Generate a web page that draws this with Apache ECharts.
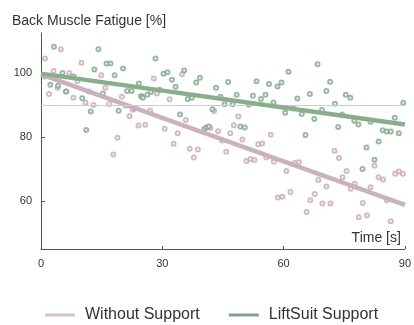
<!DOCTYPE html>
<html>
<head>
<meta charset="utf-8">
<script src="https://cdn.jsdelivr.net/npm/echarts@6/dist/echarts.min.js"></script>
<style>
html,body{margin:0;padding:0;background:#fff;}
#chart{width:414px;height:325px;}
</style>
</head>
<body>
<div id="chart"></div>
<script>
// Data
const seriesNames = ['Without Support', 'LiftSuit Support'];
const xTicks = [0, 30, 60, 90];
const yTicks = [60, 80, 100];
const referenceLevel = 90;

// Without Support: [time s, fatigue %]
const withoutPoints = [
  [1.0,104.5],[2.0,93.4],[3.1,100.6],[4.1,95.4],[4.9,107.4],[6.2,94.2],[7.0,100.0],[8.0,92.3],
  [9.0,97.5],[10.0,103.2],[11.0,90.8],[11.9,94.2],[13.0,90.0],[14.9,99.3],[15.9,95.4],[16.9,90.3],
  [17.9,74.5],[18.9,79.8],[20.0,92.6],[20.9,89.8],[21.9,86.5],[22.7,88.5],[24.1,83.6],[24.7,92.7],
  [25.8,83.8],[27.0,88.2],[27.9,98.3],[28.7,93.6],[30.6,82.6],[31.8,91.8],[32.8,77.9],[33.8,81.2],
  [34.9,99.6],[35.8,85.3],[36.8,76.3],[37.8,73.6],[38.8,76.1],[41.9,82.8],[42.8,88.1],[43.8,81.8],
  [44.8,78.9],[45.8,75.4],[46.8,81.2],[47.7,83.7],[48.8,86.4],[49.8,79.2],[50.8,72.5],[51.8,73.1],
  [52.8,72.8],[53.7,77.7],[54.7,78.0],[55.7,73.6],[56.8,80.7],[57.6,72.3],[58.6,61.1],[59.7,61.3],
  [60.7,69.4],[61.7,62.8],[62.7,71.9],[63.8,72.1],[65.7,56.6],[66.6,60.2],[67.7,62.2],[68.6,66.6],
  [69.6,59.2],[70.6,64.5],[71.6,59.2],[72.6,75.7],[73.7,73.4],[74.6,67.4],[75.6,69.4],[76.6,63.8],
  [77.6,65.4],[78.6,54.9],[79.6,59.4],[80.6,55.5],[81.5,64.3],[82.5,71.0],[83.5,67.4],[84.6,66.7],
  [85.5,60.2],[86.5,53.7],[87.6,68.5],[88.5,69.2],[89.5,68.5]
];

// LiftSuit Support: [time s, fatigue %]
const liftsuitPoints = [
  [1.0,98.9],[2.3,96.3],[3.2,108.2],[4.2,96.0],[5.3,100.0],[6.2,94.2],[8.1,98.9],[10.2,92.1],
  [11.2,82.2],[12.3,88.0],[13.2,101.1],[14.2,107.4],[15.3,93.6],[16.2,103.0],[17.2,103.0],[18.2,99.3],
  [19.2,88.2],[20.3,101.4],[21.3,94.4],[22.4,94.4],[23.2,89.0],[24.2,96.7],[24.9,92.7],[25.2,92.3],
  [26.3,93.2],[27.2,94.1],[28.3,104.5],[29.3,94.8],[30.3,99.8],[31.3,100.2],[32.4,97.9],[33.3,95.7],
  [34.4,87.0],[35.4,100.8],[36.3,91.9],[37.3,92.3],[38.4,97.0],[39.3,98.5],[40.4,82.5],[40.9,83.0],
  [41.5,83.3],[42.4,88.7],[43.3,95.4],[44.4,92.6],[45.4,90.2],[46.3,97.2],[47.4,90.2],[48.4,93.2],
  [49.3,83.3],[50.4,83.0],[51.4,90.1],[52.4,92.9],[53.3,97.4],[54.4,91.9],[55.5,93.2],[56.4,96.6],
  [57.5,90.8],[58.5,95.8],[59.5,97.0],[60.4,87.6],[61.2,100.4],[62.4,88.9],[63.4,92.0],[64.5,87.2],
  [65.4,80.6],[66.5,93.4],[67.6,85.6],[68.4,102.7],[69.5,88.4],[70.6,94.4],[71.5,97.3],[72.7,90.4],
  [73.5,83.1],[74.5,87.0],[75.4,93.2],[76.5,92.3],[77.5,85.1],[78.5,83.9],[79.5,70.0],[80.5,76.7],
  [81.5,84.8],[82.5,72.9],[83.5,78.6],[84.5,82.1],[85.5,81.7],[86.5,81.7],[87.5,86.0],[88.5,81.2],
  [89.6,90.7],[90.3,77.9]
];

// Trend lines (end points)
const withoutTrend = [[0, 99.6], [90, 58.8]];
const liftsuitTrend = [[0, 99.8], [90, 83.9]];

const C = {
  withoutPt: '#c8a9b8', liftPt: '#7eaa88',
  withoutLine: '#c9b1bd', liftLine: '#89ae8c',
  withoutLegend: '#cbb4bf', liftLegend: '#5e8b76',
  axis: '#555', text: '#333', ref: '#cccccc'
};

const chart = echarts.init(document.getElementById('chart'), null, {renderer: 'canvas'});
const FONT = 'Liberation Sans, Arial, sans-serif';

chart.setOption({
  animation: false,
  backgroundColor: '#fff',
  title: {
    text: 'Back Muscle Fatigue [%]',
    left: 7, top: 9,
    textStyle: {fontFamily: FONT, fontSize: 14, fontWeight: 'normal', color: C.text}
  },
  legend: {
    left: 40, top: 302,
    icon: 'rect', itemWidth: 30, itemHeight: 3, itemGap: 29,
    itemStyle: {borderWidth: 0},
    lineStyle: {width: 0},
    textStyle: {fontFamily: FONT, fontSize: 16, color: C.text, padding: [0, 0, 0, 5]},
    data: [
      {name: seriesNames[0], itemStyle: {color: C.withoutLegend, borderWidth: 0}},
      {name: seriesNames[1], itemStyle: {color: C.liftLegend, borderWidth: 0}}
    ]
  },
  grid: {left: 41, right: 3, top: 33, bottom: 76, containLabel: false},
  xAxis: {
    type: 'value', min: xTicks[0], max: xTicks[xTicks.length - 1], interval: 30,
    name: 'Time [s]', nameLocation: 'end', nameGap: -4,
    nameTextStyle: {fontFamily: FONT, fontSize: 14, color: C.text, align: 'right', verticalAlign: 'bottom', padding: [0, 0, 4, 0]},
    axisLine: {show: true, lineStyle: {color: C.axis, width: 1}},
    axisTick: {show: true, inside: true, length: 3, lineStyle: {color: C.axis}},
    axisLabel: {fontFamily: FONT, fontSize: 11, color: C.text, margin: 9, showMaxLabel: true, showMinLabel: true,
      alignMinLabel: 'center', alignMaxLabel: 'center', hideOverlap: false},
    splitLine: {show: false}
  },
  yAxis: {
    type: 'value', min: 45, max: 112.5,
    axisLine: {show: true, lineStyle: {color: C.axis, width: 1}},
    axisTick: {show: true, inside: true, length: 4, lineStyle: {color: C.axis}, customValues: yTicks},
    axisLabel: {fontFamily: FONT, fontSize: 11, color: C.text, margin: 9, customValues: yTicks},
    splitLine: {show: false}
  },
  series: [
    {
      name: seriesNames[0], type: 'scatter', data: withoutPoints,
      symbol: 'emptyCircle', symbolSize: 4,
      itemStyle: {color: C.withoutPt, borderColor: C.withoutPt, borderWidth: 0.9},
      z: 2,
      markLine: {
        silent: true, symbol: 'none', label: {show: false},
        lineStyle: {color: C.ref, width: 1, type: 'solid'},
        data: [{yAxis: referenceLevel}]
      }
    },
    {
      name: seriesNames[1], type: 'scatter', data: liftsuitPoints,
      symbol: 'emptyCircle', symbolSize: 4,
      itemStyle: {color: C.liftPt, borderColor: C.liftPt, borderWidth: 0.9},
      z: 2
    },
    {
      name: seriesNames[0], type: 'line', data: withoutTrend,
      showSymbol: false, symbol: 'none',
      lineStyle: {color: C.withoutLine, width: 4.5}, z: 4
    },
    {
      name: seriesNames[1], type: 'line', data: liftsuitTrend,
      showSymbol: false, symbol: 'none',
      lineStyle: {color: C.liftLine, width: 4.5}, z: 5
    }
  ]
});
</script>
</body>
</html>
